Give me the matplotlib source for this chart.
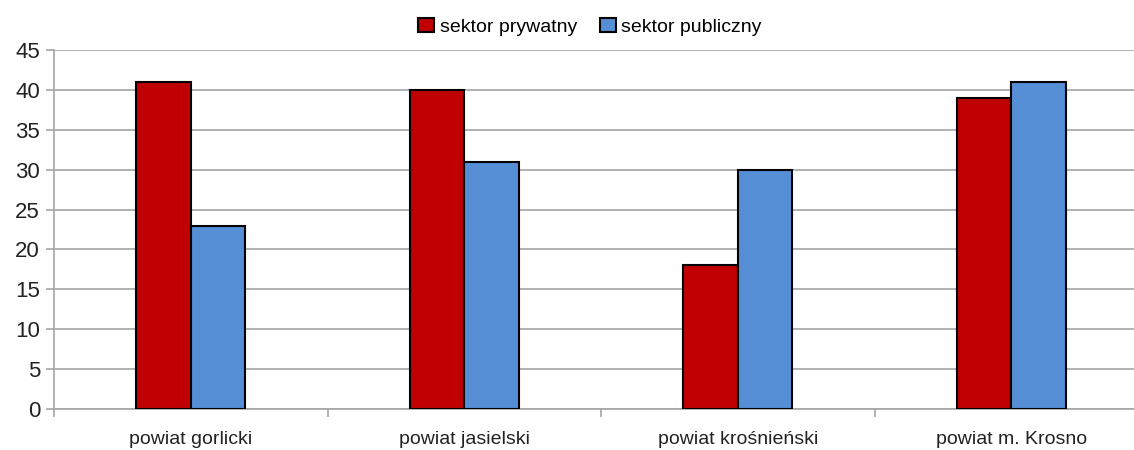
import matplotlib.pyplot as plt
import numpy as np

categories = ['powiat gorlicki', 'powiat jasielski', 'powiat krośnieński', 'powiat m. Krosno']
prywatny = [41, 40, 18, 39]
publiczny = [23, 31, 30, 41]

plt.rcParams['font.family'] = ['Liberation Sans Narrow', 'Liberation Sans', 'DejaVu Sans']

fig = plt.figure(figsize=(11.34, 4.5), dpi=100)
ax = fig.add_axes([54 / 1134, 1 - 409 / 450, 1094 / 1134, 359 / 450])

idx = np.arange(len(categories))
w = 0.2
ax.bar(idx - w / 2, prywatny, w, color='#C00000', edgecolor='black', linewidth=1.5,
       label='sektor prywatny', zorder=3)
ax.bar(idx + w / 2, publiczny, w, color='#558ED5', edgecolor='black', linewidth=1.5,
       label='sektor publiczny', zorder=3)

ax.set_xlim(-0.5, len(categories) - 0.5)
ax.set_ylim(0, 45)
ax.set_yticks(range(0, 46, 5))
ax.yaxis.grid(True, color='#A6A6A6', linewidth=1.2, zorder=0)
ax.set_axisbelow(True)

ax.set_xticks(np.arange(len(categories) + 1) - 0.5, minor=False)
ax.set_xticklabels([])
ax.set_xticks(idx, minor=True)
ax.set_xticklabels(categories, minor=True, fontsize=14, color='#222222')
ax.tick_params(axis='x', which='minor', length=0, pad=16)
ax.tick_params(axis='x', which='major', length=6, color='#A6A6A6', width=1.2)
ax.tick_params(axis='y', length=6, color='#A6A6A6', width=1.2, labelsize=16,
               labelcolor='#222222', pad=4)

for s in ['top', 'right']:
    ax.spines[s].set_visible(False)
ax.spines['left'].set_color('#A6A6A6')
ax.spines['left'].set_linewidth(1.2)
ax.spines['bottom'].set_color('#A6A6A6')
ax.spines['bottom'].set_linewidth(1.2)

fig.legend(loc='upper center', bbox_to_anchor=(590 / 1134, 1.0), ncol=2, frameon=False,
           fontsize=14, handlelength=0.8, handleheight=0.8, handletextpad=0.3,
           columnspacing=1.2)

fig.savefig('out.png', dpi=100)
